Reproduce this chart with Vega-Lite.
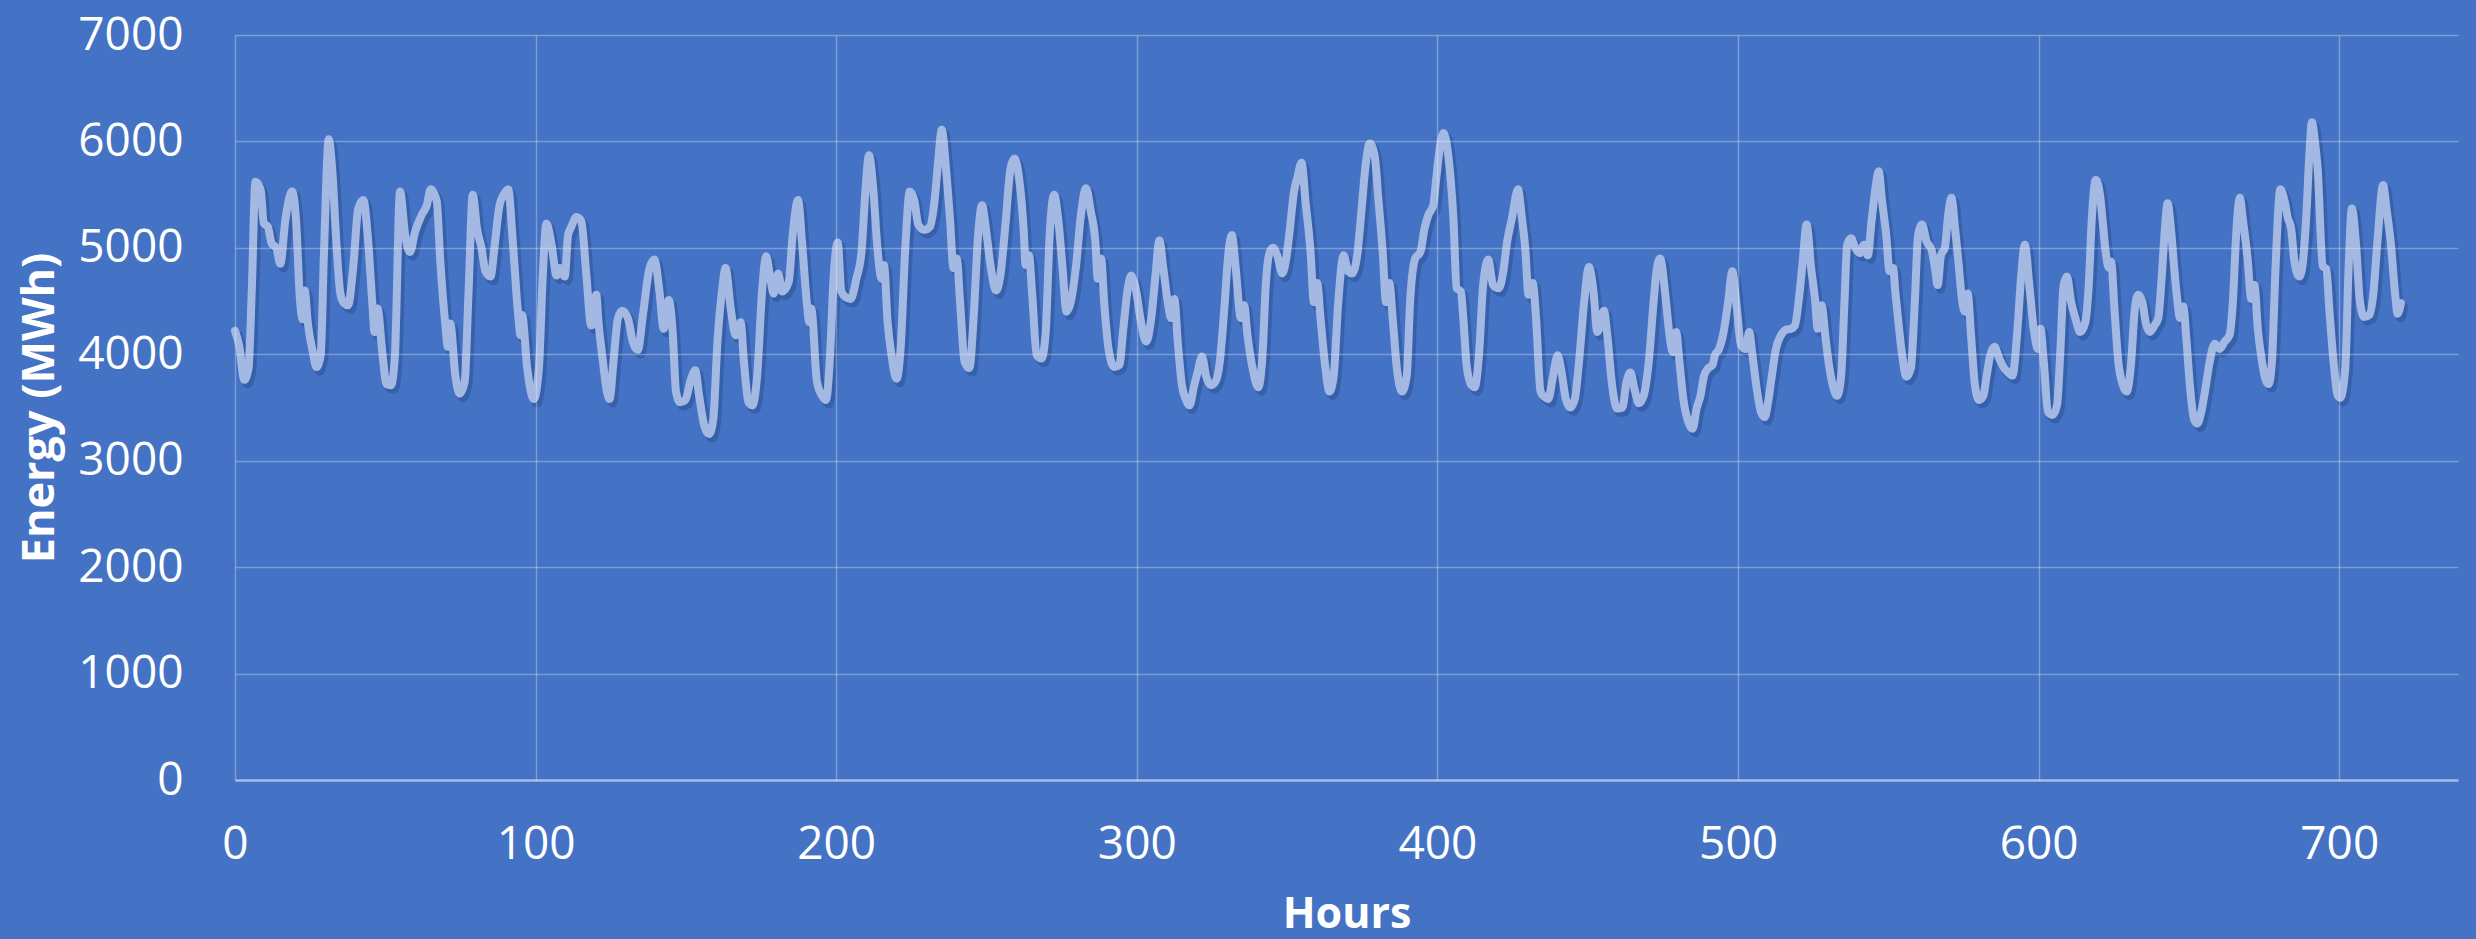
{
"$schema": "https://vega.github.io/schema/vega-lite/v6.json",
"width": 2223,
"height": 745,
"autosize": {"type": "none"},
"padding": {"left": 235, "top": 35, "right": 18, "bottom": 159},
"background": "#4472C4",
"view": {"stroke": null},
"config": {"font": "Open Sans"},
"data": {"values": [
{"h":0,"v":4220},{"h":1.4,"v":4080},{"h":3.1,"v":3760},{"h":4.5,"v":3870},{"h":5.6,"v":4620},{"h":6.8,"v":5620},{"h":8.5,"v":5550},{"h":9.6,"v":5230},{"h":10.9,"v":5200},{"h":12.2,"v":5040},{"h":13.7,"v":5000},{"h":15.1,"v":4850},{"h":16.7,"v":5250},{"h":17.8,"v":5440},{"h":19.0,"v":5530},{"h":20.4,"v":5220},{"h":21.5,"v":4560},{"h":22.5,"v":4330},{"h":23.2,"v":4600},{"h":24.2,"v":4300},{"h":25.9,"v":4020},{"h":27.1,"v":3880},{"h":28.5,"v":3990},{"h":29.6,"v":4960},{"h":31.2,"v":6020},{"h":32.3,"v":5750},{"h":33.7,"v":5060},{"h":35.1,"v":4560},{"h":36.3,"v":4480},{"h":37.6,"v":4460},{"h":39.3,"v":4810},{"h":41.0,"v":5370},{"h":42.7,"v":5450},{"h":44.3,"v":5060},{"h":45.8,"v":4430},{"h":46.4,"v":4210},{"h":47.4,"v":4430},{"h":49.0,"v":4020},{"h":50.4,"v":3720},{"h":51.9,"v":3710},{"h":53.2,"v":3990},{"h":54.9,"v":5530},{"h":56.6,"v":5120},{"h":58.2,"v":4960},{"h":59.9,"v":5150},{"h":62.1,"v":5310},{"h":63.8,"v":5400},{"h":65.1,"v":5550},{"h":67.1,"v":5440},{"h":68.3,"v":4870},{"h":69.9,"v":4300},{"h":70.8,"v":4070},{"h":71.6,"v":4290},{"h":73.3,"v":3800},{"h":74.7,"v":3630},{"h":76.4,"v":3740},{"h":77.7,"v":4590},{"h":79.1,"v":5500},{"h":80.5,"v":5180},{"h":82.0,"v":5000},{"h":83.3,"v":4780},{"h":85.0,"v":4730},{"h":86.4,"v":5030},{"h":88.0,"v":5400},{"h":89.4,"v":5500},{"h":90.9,"v":5550},{"h":92.4,"v":5060},{"h":94.2,"v":4370},{"h":95.0,"v":4180},{"h":95.5,"v":4370},{"h":97.2,"v":3870},{"h":99.4,"v":3580},{"h":101.1,"v":3870},{"h":102.5,"v":4810},{"h":103.6,"v":5230},
{"h":105.3,"v":5030},{"h":107.0,"v":4740},{"h":108.1,"v":4810},{"h":109.7,"v":4730},{"h":110.8,"v":5120},{"h":111.9,"v":5200},{"h":113.6,"v":5290},{"h":115.2,"v":5250},{"h":116.9,"v":4740},{"h":118.5,"v":4270},{"h":120.2,"v":4560},{"h":120.8,"v":4340},{"h":122.4,"v":3930},{"h":123.7,"v":3650},{"h":124.6,"v":3580},{"h":125.9,"v":3930},{"h":127.4,"v":4340},{"h":128.8,"v":4410},{"h":130.7,"v":4340},{"h":132.3,"v":4120},{"h":134.0,"v":4040},{"h":135.7,"v":4370},{"h":137.9,"v":4810},{"h":139.5,"v":4890},{"h":141.2,"v":4590},{"h":142.6,"v":4240},{"h":144.3,"v":4510},{"h":145.6,"v":4210},{"h":146.7,"v":3650},{"h":148.0,"v":3550},{"h":149.8,"v":3570},{"h":151.7,"v":3770},{"h":153.1,"v":3850},{"h":154.4,"v":3610},{"h":156.1,"v":3330},{"h":157.7,"v":3250},{"h":159.1,"v":3390},{"h":160.5,"v":4120},{"h":162.1,"v":4620},{"h":163.2,"v":4810},{"h":164.9,"v":4430},{"h":166.6,"v":4180},{"h":168.2,"v":4300},{"h":169.3,"v":3930},{"h":170.8,"v":3550},{"h":172.1,"v":3520},{"h":173.7,"v":3800},{"h":175.4,"v":4620},{"h":176.7,"v":4920},{"h":178.1,"v":4710},{"h":179.2,"v":4570},{"h":180.7,"v":4760},{"h":182.0,"v":4590},{"h":184.2,"v":4680},{"h":185.5,"v":5120},{"h":187.3,"v":5450},{"h":188.6,"v":5060},{"h":190.3,"v":4460},{"h":191.0,"v":4300},{"h":191.7,"v":4430},{"h":193.6,"v":3740},{"h":195.3,"v":3610},{"h":196.6,"v":3570},{"h":198.0,"v":4020},{"h":199.1,"v":4710},{"h":200.5,"v":5050},
{"h":201.7,"v":4590},{"h":203.0,"v":4540},{"h":204.8,"v":4520},{"h":206.7,"v":4710},{"h":208.4,"v":4960},{"h":209.7,"v":5530},{"h":210.9,"v":5870},{"h":212.3,"v":5560},{"h":213.7,"v":5000},{"h":215.1,"v":4710},{"h":215.9,"v":4840},{"h":217.1,"v":4300},{"h":218.4,"v":3990},{"h":220.1,"v":3770},{"h":221.5,"v":4090},{"h":222.9,"v":4960},{"h":224.5,"v":5530},{"h":226.0,"v":5440},{"h":227.3,"v":5220},{"h":229.3,"v":5170},{"h":231.2,"v":5200},{"h":232.7,"v":5440},{"h":234.0,"v":5840},{"h":235.1,"v":6110},{"h":236.5,"v":5750},{"h":237.9,"v":5250},{"h":239.0,"v":4810},{"h":240.1,"v":4900},{"h":241.2,"v":4490},{"h":242.7,"v":3930},{"h":244.3,"v":3870},{"h":245.7,"v":4340},{"h":247.2,"v":5120},{"h":248.5,"v":5400},{"h":249.8,"v":5180},{"h":251.3,"v":4840},{"h":253.2,"v":4600},{"h":254.6,"v":4740},{"h":256.3,"v":5220},{"h":258.0,"v":5750},{"h":259.3,"v":5840},{"h":260.8,"v":5660},{"h":262.4,"v":5150},{"h":263.0,"v":4840},{"h":264.1,"v":4930},{"h":265.2,"v":4560},{"h":266.7,"v":3990},{"h":268.3,"v":3960},{"h":269.7,"v":4210},{"h":271.0,"v":5120},{"h":272.5,"v":5500},{"h":273.8,"v":5280},{"h":275.3,"v":4810},{"h":276.6,"v":4400},{"h":278.0,"v":4490},{"h":279.7,"v":4810},{"h":281.4,"v":5310},{"h":283.1,"v":5560},{"h":284.7,"v":5340},{"h":286.2,"v":5060},{"h":287.0,"v":4710},{"h":288.1,"v":4900},{"h":289.2,"v":4460},{"h":290.6,"v":4050},{"h":292.5,"v":3880},{"h":294.2,"v":3900},{"h":295.5,"v":4240},{"h":297.0,"v":4620},{"h":298.1,"v":4740},{"h":299.8,"v":4590},{"h":301.4,"v":4300},{"h":303.1,"v":4120},
{"h":304.8,"v":4340},{"h":306.2,"v":4740},{"h":307.5,"v":5070},{"h":308.8,"v":4810},{"h":310.3,"v":4490},{"h":311.4,"v":4340},{"h":312.5,"v":4520},{"h":313.6,"v":4120},{"h":315.0,"v":3710},{"h":316.4,"v":3570},{"h":317.5,"v":3520},{"h":319.1,"v":3710},{"h":320.2,"v":3830},{"h":321.7,"v":3980},{"h":323.0,"v":3800},{"h":324.6,"v":3710},{"h":326.1,"v":3740},{"h":327.6,"v":3930},{"h":329.1,"v":4430},{"h":330.5,"v":4960},{"h":331.6,"v":5120},{"h":332.9,"v":4810},{"h":334.6,"v":4340},{"h":335.7,"v":4460},{"h":336.8,"v":4180},{"h":338.5,"v":3870},{"h":340.4,"v":3690},{"h":341.8,"v":3990},{"h":342.9,"v":4650},{"h":344.2,"v":4960},{"h":345.3,"v":5000},{"h":346.7,"v":4930},{"h":348.4,"v":4760},{"h":349.7,"v":4900},{"h":350.8,"v":5150},{"h":352.3,"v":5530},{"h":353.4,"v":5660},{"h":354.8,"v":5800},{"h":356.1,"v":5440},{"h":357.8,"v":4960},{"h":358.9,"v":4490},{"h":360.0,"v":4670},{"h":361.1,"v":4340},{"h":362.5,"v":3930},{"h":364.1,"v":3650},{"h":365.5,"v":3800},{"h":367.0,"v":4490},{"h":368.8,"v":4930},{"h":370.3,"v":4780},{"h":371.6,"v":4760},{"h":373.3,"v":4930},{"h":374.7,"v":5340},{"h":376.0,"v":5750},{"h":377.5,"v":5980},{"h":379.1,"v":5870},{"h":380.4,"v":5440},{"h":381.8,"v":4960},{"h":382.9,"v":4490},{"h":384.0,"v":4670},{"h":385.1,"v":4340},{"h":386.5,"v":3870},{"h":388.2,"v":3650},{"h":389.8,"v":3800},{"h":390.9,"v":4490},{"h":392.6,"v":4900},{"h":394.3,"v":4960},{"h":395.7,"v":5180},{"h":397.0,"v":5310},{"h":398.6,"v":5400},{"h":399.6,"v":5650},{"h":400.7,"v":5920},{"h":402.0,"v":6080},
{"h":403.6,"v":5870},{"h":405.3,"v":5280},{"h":406.4,"v":4620},{"h":407.8,"v":4590},{"h":408.6,"v":4340},{"h":409.7,"v":3900},{"h":411.3,"v":3710},{"h":412.4,"v":3690},{"h":413.8,"v":3990},{"h":415.2,"v":4650},{"h":416.9,"v":4890},{"h":418.5,"v":4650},{"h":420.4,"v":4620},{"h":421.8,"v":4760},{"h":423.2,"v":5060},{"h":424.8,"v":5280},{"h":426.8,"v":5550},{"h":428.1,"v":5280},{"h":429.2,"v":5000},{"h":430.3,"v":4560},{"h":431.7,"v":4670},{"h":432.8,"v":4340},{"h":434.3,"v":3650},{"h":435.6,"v":3600},{"h":436.9,"v":3580},{"h":438.3,"v":3770},{"h":440.0,"v":3990},{"h":441.3,"v":3830},{"h":442.7,"v":3580},{"h":444.2,"v":3500},{"h":445.7,"v":3580},{"h":447.1,"v":3930},{"h":448.8,"v":4490},{"h":450.4,"v":4820},{"h":451.9,"v":4590},{"h":453.2,"v":4210},{"h":455.4,"v":4410},{"h":456.5,"v":4180},{"h":458.1,"v":3710},{"h":459.8,"v":3490},{"h":461.5,"v":3500},{"h":462.9,"v":3740},{"h":464.2,"v":3830},{"h":465.5,"v":3680},{"h":467.0,"v":3540},{"h":468.6,"v":3610},{"h":470.3,"v":3930},{"h":471.9,"v":4490},{"h":473.0,"v":4810},{"h":474.1,"v":4900},{"h":475.8,"v":4560},{"h":477.2,"v":4180},{"h":478.3,"v":4020},{"h":479.4,"v":4210},{"h":480.5,"v":3930},{"h":481.8,"v":3580},{"h":483.5,"v":3360},{"h":484.9,"v":3300},{"h":486.2,"v":3490},{"h":487.5,"v":3610},{"h":488.7,"v":3800},{"h":490.1,"v":3870},{"h":491.5,"v":3900},{"h":492.3,"v":3990},{"h":493.7,"v":4050},{"h":495.0,"v":4180},{"h":496.7,"v":4490},{"h":498.1,"v":4780},{"h":499.4,"v":4490},{"h":501.0,"v":4085},
{"h":502.6,"v":4050},{"h":503.7,"v":4210},{"h":504.8,"v":3990},{"h":506.2,"v":3680},{"h":507.6,"v":3460},{"h":508.9,"v":3410},{"h":510.0,"v":3550},{"h":511.1,"v":3770},{"h":512.6,"v":4050},{"h":514.3,"v":4180},{"h":515.9,"v":4230},{"h":517.6,"v":4240},{"h":518.9,"v":4270},{"h":520.4,"v":4560},{"h":521.5,"v":4870},{"h":522.8,"v":5220},{"h":524.3,"v":4810},{"h":525.6,"v":4520},{"h":526.5,"v":4240},{"h":527.8,"v":4460},{"h":529.0,"v":4180},{"h":530.1,"v":3930},{"h":531.5,"v":3710},{"h":533.0,"v":3610},{"h":534.3,"v":3800},{"h":535.4,"v":4490},{"h":536.3,"v":5030},{"h":537.6,"v":5090},{"h":539.0,"v":5000},{"h":540.4,"v":4950},{"h":541.9,"v":5030},{"h":543.2,"v":4930},{"h":544.3,"v":5220},{"h":545.7,"v":5560},{"h":546.8,"v":5720},{"h":547.9,"v":5440},{"h":549.3,"v":5120},{"h":550.4,"v":4780},{"h":551.6,"v":4810},{"h":552.3,"v":4590},{"h":553.2,"v":4340},{"h":554.6,"v":3990},{"h":556.0,"v":3790},{"h":557.5,"v":3870},{"h":558.8,"v":4490},{"h":559.9,"v":5120},{"h":561.2,"v":5220},{"h":562.7,"v":5060},{"h":564.4,"v":4980},{"h":565.5,"v":4810},{"h":566.4,"v":4650},{"h":567.5,"v":4930},{"h":568.8,"v":5000},{"h":569.9,"v":5310},{"h":571.0,"v":5470},{"h":572.2,"v":5180},{"h":573.3,"v":4870},{"h":574.6,"v":4490},{"h":575.5,"v":4400},{"h":576.4,"v":4570},{"h":577.5,"v":4180},{"h":578.8,"v":3710},{"h":580.2,"v":3570},{"h":581.6,"v":3610},{"h":582.7,"v":3800},{"h":583.9,"v":3990},{"h":585.3,"v":4070},{"h":586.9,"v":3960},{"h":588.3,"v":3880},{"h":589.8,"v":3830},{"h":591.3,"v":3800},{"h":592.8,"v":4180},{"h":594.2,"v":4740},{"h":595.4,"v":5030},{"h":596.9,"v":4650},{"h":598.3,"v":4250},{"h":599.8,"v":4050},{"h":600.6,"v":4240},
{"h":601.7,"v":3930},{"h":603.1,"v":3460},{"h":604.6,"v":3430},{"h":606.1,"v":3520},{"h":607.2,"v":4020},{"h":608.3,"v":4650},{"h":609.4,"v":4730},{"h":610.8,"v":4490},{"h":612.2,"v":4340},{"h":613.8,"v":4210},{"h":615.5,"v":4300},{"h":616.6,"v":4620},{"h":617.7,"v":5280},{"h":619.0,"v":5640},{"h":620.4,"v":5500},{"h":621.2,"v":5280},{"h":622.3,"v":4960},{"h":623.4,"v":4810},{"h":624.1,"v":4870},{"h":625.2,"v":4430},{"h":626.5,"v":3930},{"h":628.0,"v":3710},{"h":629.3,"v":3650},{"h":630.7,"v":3900},{"h":632.0,"v":4430},{"h":633.1,"v":4560},{"h":634.5,"v":4490},{"h":635.6,"v":4300},{"h":637.0,"v":4210},{"h":638.5,"v":4270},{"h":639.8,"v":4340},{"h":640.9,"v":4710},{"h":642.0,"v":5180},{"h":642.9,"v":5420},{"h":644.0,"v":5180},{"h":645.1,"v":4810},{"h":646.2,"v":4490},{"h":647.0,"v":4340},{"h":648.1,"v":4450},{"h":649.2,"v":4120},{"h":650.3,"v":3710},{"h":651.7,"v":3390},{"h":652.8,"v":3350},{"h":654.1,"v":3460},{"h":655.5,"v":3680},{"h":656.9,"v":3930},{"h":658.6,"v":4100},{"h":660.2,"v":4050},{"h":661.9,"v":4120},{"h":663.5,"v":4180},{"h":664.6,"v":4490},{"h":665.7,"v":5120},{"h":666.9,"v":5470},{"h":668.0,"v":5250},{"h":669.5,"v":4900},{"h":670.7,"v":4520},{"h":671.8,"v":4650},{"h":672.9,"v":4240},{"h":674.3,"v":3930},{"h":675.4,"v":3770},{"h":676.5,"v":3720},{"h":677.6,"v":3930},{"h":678.8,"v":4810},{"h":680.4,"v":5550},{"h":681.8,"v":5440},{"h":682.9,"v":5280},{"h":684.0,"v":5180},{"h":685.1,"v":4870},{"h":686.7,"v":4730},{"h":687.8,"v":4840},{"h":689.0,"v":5280},{"h":690.1,"v":5900},{"h":690.9,"v":6180},{"h":691.9,"v":6000},{"h":692.8,"v":5750},{"h":694.5,"v":4830},{"h":695.7,"v":4800},{"h":696.7,"v":4420},{"h":698.2,"v":3900},{"h":699.4,"v":3620},{"h":700.3,"v":3590},{"h":702.0,"v":3870},{"h":703.1,"v":4810},{"h":704.2,"v":5370},{"h":705.5,"v":5060},{"h":706.9,"v":4490},{"h":708.3,"v":4350},{"h":710.0,"v":4370},{"h":711.3,"v":4560},{"h":712.7,"v":5060},{"h":714.6,"v":5590},{"h":715.7,"v":5370},{"h":717.2,"v":5030},{"h":718.6,"v":4560},{"h":719.4,"v":4380},{"h":720.5,"v":4480}
]},
"encoding": {
  "x": {"field": "h", "type": "quantitative",
    "scale": {"domain": [0, 739.5], "nice": false, "zero": false},
    "axis": {"values": [0,100,200,300,400,500,600,700], "format": "d", "labelFlush": false, "labelOverlap": false, "title": "Hours", "zindex": 1,
      "grid": true, "gridColor": "#ffffff", "gridOpacity": 0.3, "gridWidth": 1.5,
      "ticks": false, "domain": true, "domainColor": "#ffffff", "domainOpacity": 0.35, "domainWidth": 3,
      "labelColor": "#ffffff", "labelFont": "Open Sans", "labelFontSize": 46, "labelPadding": 42,
      "titleColor": "#ffffff", "titleFont": "Open Sans", "titleFontWeight": "bold", "titleFontSize": 43, "titlePadding": 26}},
  "y": {"field": "v", "type": "quantitative",
    "scale": {"domain": [0, 7000], "nice": false},
    "axis": {"values": [0,1000,2000,3000,4000,5000,6000,7000], "format": "d", "labelFlush": false, "labelOverlap": false, "title": "Energy (MWh)", "zindex": 1,
      "grid": true, "gridColor": "#ffffff", "gridOpacity": 0.3, "gridWidth": 1.5,
      "ticks": false, "domain": false,
      "labelColor": "#ffffff", "labelFont": "Open Sans", "labelFontSize": 46, "labelPadding": 52,
      "titleColor": "#ffffff", "titleFont": "Open Sans", "titleFontWeight": "bold", "titleFontSize": 45, "titlePadding": 15}}
},
"layer": [
  {"mark": {"type": "line", "interpolate": "monotone", "stroke": "#1F3F7A", "strokeOpacity": 0.35, "strokeWidth": 9, "xOffset": 3, "yOffset": 4, "strokeCap": "round", "strokeJoin": "round"}},
  {"mark": {"type": "line", "interpolate": "monotone", "stroke": "#A3B8E2", "strokeWidth": 8, "strokeCap": "round", "strokeJoin": "round"}}
]
}
